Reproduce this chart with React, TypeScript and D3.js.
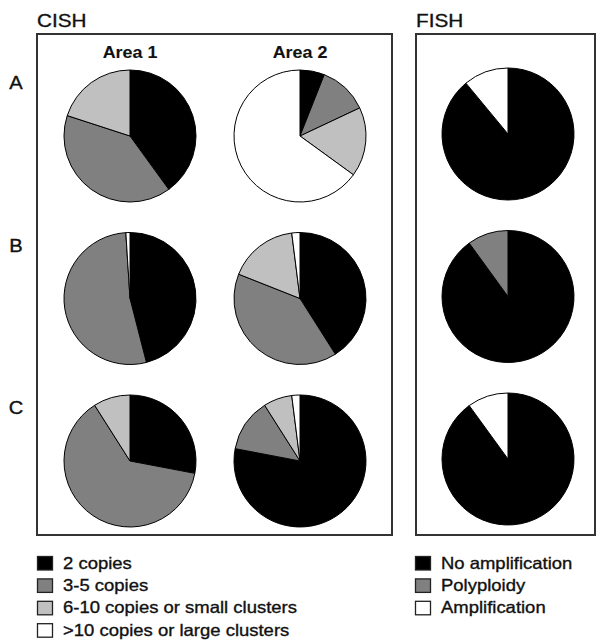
import * as d3 from 'd3';

// row / column labels
const rows = ['A', 'B', 'C'];
const areas = ['Area 1', 'Area 2'];

// legend categories
const cishCategories = ['2 copies', '3-5 copies', '6-10 copies or small clusters', '>10 copies or large clusters'];
const fishCategories = ['No amplification', 'Polyploidy', 'Amplification'];

// percentages per row (A, B, C), clockwise from 12 o'clock
const cishArea1 = [
  [40, 40, 20, 0],
  [46, 53, 0, 1],
  [28, 63, 9, 0],
];
const cishArea2 = [
  [6, 12, 17, 65],
  [41, 40, 17, 2],
  [78, 13, 7, 2],
];
const fishValues = [
  [89, 0, 11],
  [90, 10, 0],
  [90, 0, 10],
];

const cishColors = ['#000000', '#808080', '#c0c0c0', '#ffffff'];
const fishColors = ['#000000', '#808080', '#ffffff'];

const W = 596;
const H = 642;
const R = 66;
const font = 'Liberation Sans, Arial, sans-serif';
const SX = 1.12; // reference type is a little wide

const y = d3.scalePoint<string>().domain(rows).range([136, 461]);
const xCish = d3.scalePoint<string>().domain(areas).range([130, 300]);
const xFish = 508;

const pie = d3.pie<number>().sort(null).value((d) => d);
const arc = d3.arc<d3.PieArcDatum<number>>().innerRadius(0).outerRadius(R);

const Label = ({ x, y, size, bold, anchor, children }: any) => (
  <text
    transform={`translate(${x},${y}) scale(${SX},1)`}
    textAnchor={anchor || 'start'}
    fontSize={size}
    fontWeight={bold ? 'bold' : 'normal'}
    fontFamily={font}
    fill="#111"
    stroke="#111"
    strokeWidth={bold ? 0.1 : 0.35}
  >
    {children}
  </text>
);

const Pie = ({ cx, cy, values, colors }: { cx: number; cy: number; values: number[]; colors: string[] }) => (
  <g transform={`translate(${cx},${cy})`}>
    {pie(values).map((a, i) =>
      a.value > 0 ? (
        <path key={i} d={arc(a) || ''} fill={colors[i]} stroke="#000" strokeWidth={1} />
      ) : null
    )}
  </g>
);

const Legend = ({ x, y0, items, colors }: { x: number; y0: number; items: string[]; colors: string[] }) => {
  const ly = d3.scaleLinear().domain([0, 1]).range([y0, y0 + 22.4]);
  return (
    <g>
      {items.map((t, i) => (
        <g key={t} transform={`translate(${x},${ly(i)})`}>
          <rect x={0.5} y={0.5} width={15} height={13.5} fill={colors[i]} stroke="#222" strokeWidth={1.3} />
          <Label x={26} y={12.5} size={16.5}>
            {t}
          </Label>
        </g>
      ))}
    </g>
  );
};

export default function App() {
  return (
    <svg width={W} height={H} style={{ position: 'absolute', left: 0, top: 0, background: '#fff' }}>
      <Label x={37} y={27} size={18.5}>CISH</Label>
      <Label x={416} y={27} size={18.5}>FISH</Label>

      <rect x={37} y={34} width={355} height={501} fill="none" stroke="#333" strokeWidth={2} />
      <rect x={416} y={34} width={179} height={501} fill="none" stroke="#333" strokeWidth={2} />

      {areas.map((a) => (
        <Label key={a} x={xCish(a)} y={58} size={16} bold anchor="middle">
          {a}
        </Label>
      ))}

      {rows.map((r, i) => (
        <g key={r}>
          <Label x={16} y={(y(r) as number) - 47} size={18} anchor="middle">
            {r}
          </Label>
          <Pie cx={xCish('Area 1') as number} cy={y(r) as number} values={cishArea1[i]} colors={cishColors} />
          <Pie cx={xCish('Area 2') as number} cy={y(r) as number} values={cishArea2[i]} colors={cishColors} />
          <Pie cx={xFish} cy={(y(r) as number) - 2} values={fishValues[i]} colors={fishColors} />
        </g>
      ))}

      <Legend x={37} y0={556} items={cishCategories} colors={cishColors} />
      <Legend x={415} y0={556} items={fishCategories} colors={fishColors} />
    </svg>
  );
}
